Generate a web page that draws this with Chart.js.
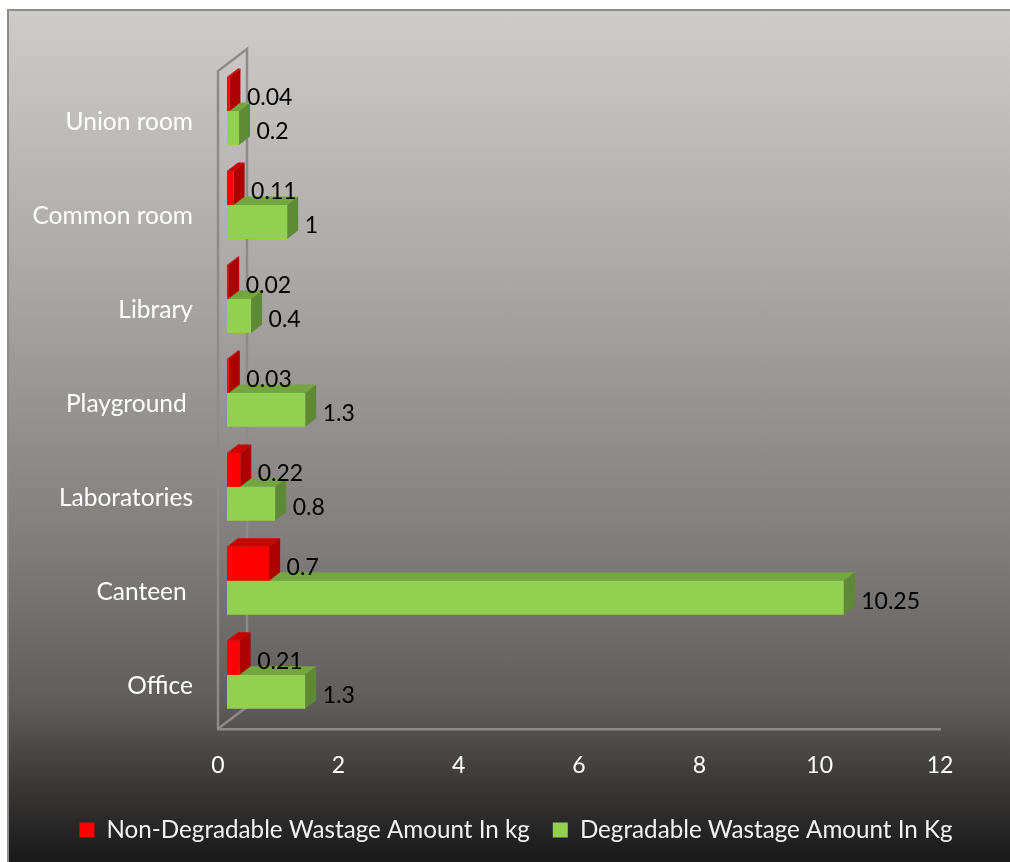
<!DOCTYPE html>
<html>
<head>
<meta charset="utf-8">
<script src="https://cdn.jsdelivr.net/npm/chart.js@4"></script>
<style>
  html, body { margin: 0; background: #fff; overflow: hidden; }
  #wrap { position: relative; width: 1010px; height: 862px; }
  #fundo {
    position: absolute; left: 7px; top: 9px; width: 1010px; height: 860px;
    border: 2px solid #8c8c8c; box-sizing: border-box;
    background: linear-gradient(to bottom, #cecbcb 0%, #aeaaa9 29%, #807c7b 63%, #5f5c5b 81%, #3c3a39 90%, #1a1a1a 99%);
  }
  canvas { position: absolute; left: 0; top: 0; }
</style>
</head>
<body>
<div id="wrap">
  <div id="fundo"></div>
  <canvas id="grafico" width="1010" height="862"></canvas>
</div>
<script>
const categorias = ["Office", "Canteen ", "Laboratories", "Playground ", "Library", "Common room", "Union room"];
const naoDegradavel = [0.21, 0.7, 0.22, 0.03, 0.02, 0.11, 0.04];
const degradavel = [1.3, 10.25, 0.8, 1.3, 0.4, 1, 0.2];
const ticksX = [0, 2, 4, 6, 8, 10, 12];

const fonteCat = { family: "Lato", size: 24.5 };
const fonteTick = { family: "Lato", size: 23 };
const fonteLegenda = { family: "Lato", size: 24.2 };
const fonteValor = { family: "Lato", size: 23 };

// deslocamento das barras em relacao ao eixo (efeito 3D do original)
const desloc = { x: 9, y: -7 };
const prof = { x: 11, y: -8.5 };
const parede = { x: 29, y: -22 };

const faces = {
  "#ff0000": { lado: "#ae0000", topo: "#cc0000" },
  "#92d050": { lado: "#5f8a35", topo: "#74a640" }
};

function poligono(ctx, cor, pts) {
  ctx.fillStyle = cor;
  ctx.beginPath();
  pts.forEach((p, i) => i ? ctx.lineTo(p[0], p[1]) : ctx.moveTo(p[0], p[1]));
  ctx.closePath();
  ctx.fill();
}

const barras3d = {
  id: "barras3d",
  beforeDatasetsDraw(chart) {
    const { ctx, chartArea: a } = chart;
    ctx.save();
    ctx.strokeStyle = "#8c8a8a";
    ctx.lineWidth = 2.5;
    ctx.beginPath();
    ctx.moveTo(a.left, a.bottom);
    ctx.lineTo(a.left, a.top);
    ctx.lineTo(a.left + parede.x, a.top + parede.y);
    ctx.lineTo(a.left + parede.x, a.bottom + parede.y);
    ctx.lineTo(a.left, a.bottom);
    ctx.stroke();
    ctx.restore();
    ctx.save();
    ctx.translate(desloc.x, desloc.y);
  },
  beforeDatasetDraw(chart, args) {
    const { ctx } = chart;
    const cor = faces[chart.data.datasets[args.index].backgroundColor];
    args.meta.data.forEach(b => {
      const h = b.height / 2;
      const x0 = b.base, x1 = b.x, y0 = b.y - h, y1 = b.y + h;
      poligono(ctx, cor.topo, [[x0, y0], [x1, y0], [x1 + prof.x, y0 + prof.y], [x0 + prof.x, y0 + prof.y]]);
      poligono(ctx, cor.lado, [[x1, y0], [x1 + prof.x, y0 + prof.y], [x1 + prof.x, y1 + prof.y], [x1, y1]]);
    });
  },
  afterDatasetsDraw(chart) {
    const { ctx } = chart;
    ctx.font = fonteValor.size + "px " + fonteValor.family;
    ctx.fillStyle = "#000";
    ctx.textAlign = "left";
    ctx.textBaseline = "middle";
    chart.data.datasets.forEach((ds, i) => {
      chart.getDatasetMeta(i).data.forEach((b, j) => {
        ctx.fillText(String(ds.data[j]), b.x + prof.x + 6.5, b.y + 3.5);
      });
    });
    ctx.restore();
  }
};

new Chart(document.getElementById("grafico"), {
  type: "bar",
  data: {
    labels: categorias,
    datasets: [
      { label: "Non-Degradable Wastage Amount In kg", data: naoDegradavel, backgroundColor: "#ff0000", clip: false },
      { label: "Degradable Wastage Amount In Kg", data: degradavel, backgroundColor: "#92d050", clip: false }
    ]
  },
  options: {
    indexAxis: "y",
    responsive: false,
    animation: false,
    categoryPercentage: 0.723,
    barPercentage: 1,
    layout: { padding: { left: 22, right: 0, top: 71, bottom: 10 } },
    plugins: {
      tooltip: { enabled: false },
      legend: {
        position: "bottom",
        labels: { color: "#f2f2f2", font: fonteLegenda, boxWidth: 15, boxHeight: 15, padding: 23 }
      }
    },
    scales: {
      x: {
        min: 0,
        max: 12,
        afterFit(s) { s.height = 66; s.paddingRight = 70; },
        afterBuildTicks(s) { s.ticks = ticksX.map(v => ({ value: v })); },
        grid: { display: false },
        border: { color: "#8c8a8a", width: 2.5 },
        ticks: { color: "#fff", font: fonteTick, padding: 15, maxRotation: 0 }
      },
      y: {
        reverse: true,
        afterFit(s) { s.width = 196; },
        grid: { display: false },
        border: { display: false },
        ticks: { color: "#fff", font: fonteCat, padding: 17, autoSkip: false, labelOffset: 4 }
      }
    }
  },
  plugins: [barras3d]
});
</script>
</body>
</html>
